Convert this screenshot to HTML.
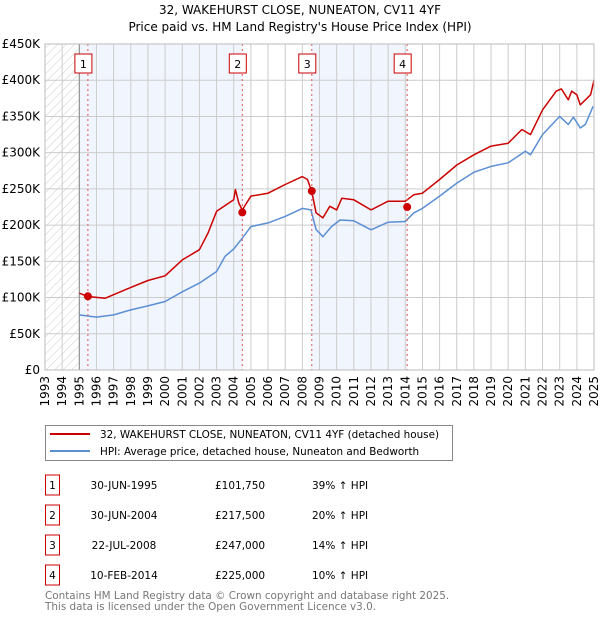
<!DOCTYPE html>
<html><head><meta charset="utf-8"><style>
body{margin:0;background:#fff;font-family:"Liberation Sans","DejaVu Sans",sans-serif;}
svg text{font-family:"DejaVu Sans","Liberation Sans",sans-serif;}
</style></head><body>
<svg width="600" height="620" id="c">
<defs><pattern id="hatch" width="6" height="6" patternUnits="userSpaceOnUse" patternTransform="rotate(45)"><line x1="0" y1="0" x2="0" y2="6" stroke="#ccc" stroke-width="1"/></pattern></defs>
<text x="300" y="14" text-anchor="middle" font-size="12">32, WAKEHURST CLOSE, NUNEATON, CV11 4YF</text>
<text x="300" y="31" text-anchor="middle" font-size="12">Price paid vs. HM Land Registry's House Price Index (HPI)</text>
<g id="plot"></g>
<g>
<rect x="45.5" y="425.5" width="407" height="35" fill="#fff" stroke="#888"/>
<line x1="50" y1="434" x2="90" y2="434" stroke="#cc0000" stroke-width="2"/>
<text x="100" y="438" font-size="10.4">32, WAKEHURST CLOSE, NUNEATON, CV11 4YF (detached house)</text>
<line x1="50" y1="451" x2="90" y2="451" stroke="#5b8fd4" stroke-width="2"/>
<text x="100" y="455" font-size="10.4">HPI: Average price, detached house, Nuneaton and Bedworth</text>
</g>
<g id="table" font-size="10.5"></g>
<text x="45" y="599" font-size="10.4" fill="#777">Contains HM Land Registry data © Crown copyright and database right 2025.</text>
<text x="45" y="610" font-size="10.4" fill="#777">This data is licensed under the Open Government Licence v3.0.</text>
</svg>
<script>
const yTicks=[0,50,100,150,200,250,300,350,400,450];
const yearTicks=[1993,1994,1995,1996,1997,1998,1999,2000,2001,2002,2003,2004,2005,2006,2007,2008,2009,2010,2011,2012,2013,2014,2015,2016,2017,2018,2019,2020,2021,2022,2023,2024,2025];
const hpiYears=[1995,1996,1997,1998,1999,2000,2001,2002,2003,2003.5,2004,2004.5,2005,2006,2007,2008,2008.5,2008.8,2009.2,2009.7,2010.2,2011,2012,2013,2014,2014.5,2015,2016,2017,2018,2019,2020,2020.7,2021,2021.3,2022,2023,2023.5,2023.8,2024.2,2024.5,2024.95];
const hpiValues=[76,73,76,83,88.5,94.5,108,120,136,157,167,182,198,203,212,223,221,194,184,198,207,206,193.5,204,205,217,223,240,258,273,281,286,297,302,297,325,350,339,349,334,339,364];
const propYears=[1995,1995.5,1996.5,1997,1998,1999,2000,2001,2002,2002.5,2003,2004,2004.1,2004.3,2004.5,2005,2006,2007,2008,2008.3,2008.55,2008.8,2009.2,2009.6,2010,2010.3,2011,2012,2013,2014,2014.5,2015,2016,2017,2018,2019,2020,2020.8,2021.3,2022,2022.8,2023.1,2023.5,2023.7,2024,2024.2,2024.8,2025];
const propValues=[106,101.4,99,104,114,123.5,130,152,166,189,219,235,249,230,221,240,244,256,267,263,246,217,210,226,221,237,235,221,233,233,242,244,263,283,297,309,313,332,325,359,385,388,373,385,380,366,380,400];
const saleNums=["1","2","3","4"];
const saleYears=[1995.5,2004.5,2008.55,2014.11];
const saleValues=[101.75,217.5,247,225];
const saleDates=["30-JUN-1995","30-JUN-2004","22-JUL-2008","10-FEB-2014"];
const salePrices=["£101,750","£217,500","£247,000","£225,000"];
const saleHpi=["39% ↑ HPI","20% ↑ HPI","14% ↑ HPI","10% ↑ HPI"];

const NS="http://www.w3.org/2000/svg";
const L=45,R=594,T=44,B=370;
const xS=y=>L+(y-1993)/(2025-1993)*(R-L);
const yS=v=>B-v/450*(B-T);
function mk(tag,attrs,parent){const e=document.createElementNS(NS,tag);for(const k in attrs)e.setAttribute(k,attrs[k]);parent.appendChild(e);return e;}
const g=document.getElementById('plot');
let e;
e=mk('rect',{x:xS(1993),y:T,width:xS(1995)-xS(1993),height:B-T,fill:'url(#hatch)'},g);


e=mk('rect',{x:xS(1995),y:T,width:xS(saleYears[1])-xS(1995),height:B-T,fill:'#eef3fc',opacity:0.8},g);


e=mk('rect',{x:xS(saleYears[2]),y:T,width:xS(saleYears[3])-xS(saleYears[2]),height:B-T,fill:'#eef3fc',opacity:0.8},g);


yTicks.forEach(v=>{
 e=mk('line',{x1:L,x2:R,y1:yS(v),y2:yS(v),stroke:'#ccc','stroke-width':1},g);
 
 
 e=mk('text',{x:40,y:yS(v)+4,'text-anchor':'end','font-size':12},g);
 e.textContent=v===0?'£0':'£'+v+'K';
 
 
});
yearTicks.forEach(yr=>{
 e=mk('line',{x1:xS(yr),x2:xS(yr),y1:T,y2:B,stroke:'#ccc','stroke-width':1},g);
 
 
 const tx=xS(yr)+4;
 e=mk('text',{x:tx,y:376,'text-anchor':'end','font-size':12,transform:`rotate(-90 ${tx} 376)`},g);
 e.textContent=yr;
 
 
});
e=mk('line',{x1:xS(1995),x2:xS(1995),y1:T,y2:B,stroke:'#888','stroke-width':1},g);


function path(xs,vs,col,name){
 const d=xs.map((x,i)=>(i?'L':'M')+xS(x).toFixed(1)+','+yS(vs[i]).toFixed(1)).join('');
 const p=mk('path',{d:d,fill:'none',stroke:col,'stroke-width':1.5,'stroke-linejoin':'round'},g);
 
 
}
path(hpiYears,hpiValues,'#5b8fd4','hpi-line');
path(propYears,propValues,'#cc0000','property-price-line');
saleYears.forEach((yr,i)=>{
 e=mk('line',{x1:xS(yr),x2:xS(yr),y1:T,y2:B,stroke:'#e05555','stroke-width':1,'stroke-dasharray':'2,3'},g);
 
 
 e=mk('rect',{x:xS(yr)-13,y:54,width:17,height:19,fill:'#fff',stroke:'#cc0000','stroke-width':1},g);
 
 
 e=mk('text',{x:xS(yr)-4.5,y:68,'text-anchor':'middle','font-size':11},g);
 e.textContent=saleNums[i];
 
 
 e=mk('circle',{cx:xS(yr),cy:yS(saleValues[i]),r:4,fill:'#cc0000'},g);
 
 
});
e=mk('rect',{x:L,y:T,width:R-L,height:B-T,fill:'none',stroke:'#bbb','stroke-width':1},g);


const tb=document.getElementById('table');
saleNums.forEach((n,i)=>{
 const y=475+i*30;
 e=mk('rect',{x:45.5,y:y,width:14,height:20,fill:'#fff',stroke:'#cc0000'},tb);
 
 
 e=mk('text',{x:52.5,y:y+14,'text-anchor':'middle'},tb);e.textContent=n;
 
 
 e=mk('text',{x:124,y:y+14,'text-anchor':'middle'},tb);e.textContent=saleDates[i];
 
 
 e=mk('text',{x:215,y:y+14},tb);e.textContent=salePrices[i];
 
 
 e=mk('text',{x:312,y:y+14},tb);e.textContent=saleHpi[i];
 
 
});
</script>
</body></html>
